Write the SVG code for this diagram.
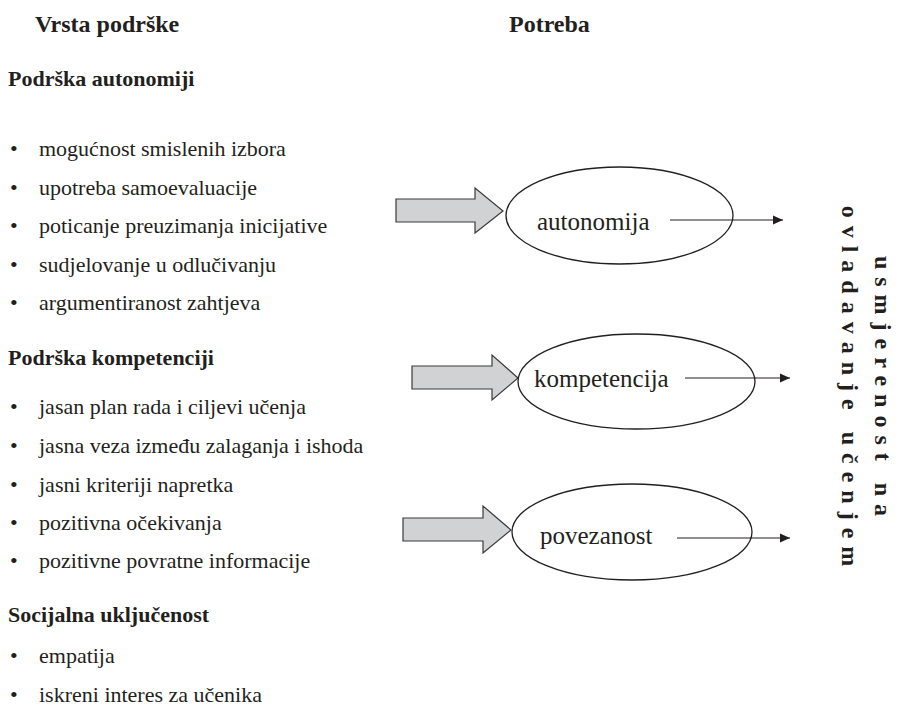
<svg xmlns="http://www.w3.org/2000/svg" width="902" height="718" viewBox="0 0 902 718">
<style>
text{font-family:"Liberation Serif","Times New Roman",serif;fill:#231f20}
.h{font-weight:bold;font-size:24px}
.s{font-weight:bold;font-size:22px}
.li{font-size:22px}
.n{font-size:25px}
.v{font-weight:bold;font-size:24px;letter-spacing:8px}
.ell{fill:none;stroke:#231f20;stroke-width:1.3}
.blk{fill:#d1d2d4;stroke:#3a3a3a;stroke-width:1.2}
.ln{stroke:#231f20;stroke-width:1.2;fill:none}
</style>
<defs>
<marker id="ah" viewBox="0 0 10 10" refX="10" refY="5" markerWidth="10" markerHeight="10" markerUnits="userSpaceOnUse" orient="auto">
<path d="M0,0.5 L10,5 L0,9.5 Z" fill="#231f20"/>
</marker>
</defs>
<rect width="902" height="718" fill="#fff"/>
<g id="headers">
<text class="h" x="35" y="32">Vrsta podrške</text>
<text class="h" x="509" y="32">Potreba</text>
</g>
<g id="list-autonomija">
<text class="s" x="8" y="86">Podrška autonomiji</text>
<text class="li" x="10" y="156">•</text><text class="li" x="39" y="156">mogućnost smislenih izbora</text>
<text class="li" x="10" y="195">•</text><text class="li" x="39" y="195">upotreba samoevaluacije</text>
<text class="li" x="10" y="233">•</text><text class="li" x="39" y="233">poticanje preuzimanja inicijative</text>
<text class="li" x="10" y="272">•</text><text class="li" x="39" y="272">sudjelovanje u odlučivanju</text>
<text class="li" x="10" y="310">•</text><text class="li" x="39" y="310">argumentiranost zahtjeva</text>
</g>
<g id="list-kompetencija">
<text class="s" x="8" y="365">Podrška kompetenciji</text>
<text class="li" x="10" y="414">•</text><text class="li" x="39" y="414">jasan plan rada i ciljevi učenja</text>
<text class="li" x="10" y="453">•</text><text class="li" x="39" y="453">jasna veza između zalaganja i ishoda</text>
<text class="li" x="10" y="492">•</text><text class="li" x="39" y="492">jasni kriteriji napretka</text>
<text class="li" x="10" y="530">•</text><text class="li" x="39" y="530">pozitivna očekivanja</text>
<text class="li" x="10" y="568">•</text><text class="li" x="39" y="568">pozitivne povratne informacije</text>
</g>
<g id="list-socijalna">
<text class="s" x="8" y="622">Socijalna uključenost</text>
<text class="li" x="10" y="663">•</text><text class="li" x="39" y="663">empatija</text>
<text class="li" x="10" y="702">•</text><text class="li" x="39" y="702">iskreni interes za učenika</text>
</g>
<g id="arrow-autonomija">
<polygon class="blk" points="396,199 475,199 475,188 503,211 475,233 475,222 396,222"/>
</g>
<g id="arrow-kompetencija">
<polygon class="blk" points="412,366 492,366 492,355 518,378 492,400 492,389 412,389"/>
</g>
<g id="arrow-povezanost">
<polygon class="blk" points="403,518 483,518 483,506 511,530 483,553 483,541 403,541"/>
</g>
<g id="node-autonomija">
<ellipse class="ell" cx="619.5" cy="215.5" rx="113.5" ry="48.5"/>
<text class="n" x="537" y="230">autonomija</text>
</g>
<g id="node-kompetencija">
<ellipse class="ell" cx="636.5" cy="381.5" rx="118.5" ry="47.5"/>
<text class="n" x="534" y="387">kompetencija</text>
</g>
<g id="node-povezanost">
<ellipse class="ell" cx="632" cy="532" rx="120" ry="48"/>
<text class="n" x="540" y="544">povezanost</text>
</g>
<g id="connectors">
<line class="ln" x1="670" y1="220" x2="783" y2="220" marker-end="url(#ah)"/>
<line class="ln" x1="685" y1="378" x2="790" y2="378" marker-end="url(#ah)"/>
<line class="ln" x1="677" y1="538" x2="790" y2="538" marker-end="url(#ah)"/>
</g>
<g id="outcome">
<text class="v" transform="translate(875,390) rotate(90)" text-anchor="middle">usmjerenost na</text>
<text class="v" transform="translate(842,390) rotate(90)" text-anchor="middle">ovladavanje učenjem</text>
</g>
</svg>
